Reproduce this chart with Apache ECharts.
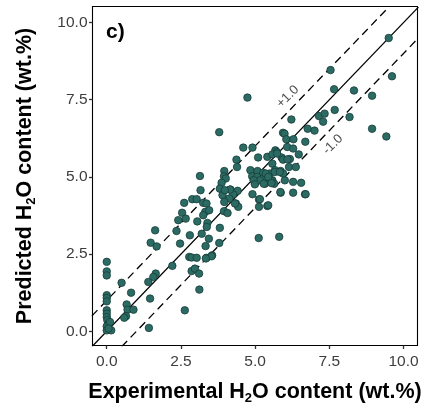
<!DOCTYPE html>
<html>
<head>
<meta charset="utf-8">
<script src="https://cdn.jsdelivr.net/npm/echarts@6/dist/echarts.min.js"></script>
<style>html,body{margin:0;padding:0;background:#fff}#c{width:425px;height:408px}</style>
</head>
<body>
<div id="c"></div>
<script>
var tickValues = [0, 2.5, 5, 7.5, 10];
var experimental = [9.50,7.54,9.61,4.74,7.66,8.33,8.94,7.68,6.22,8.18,7.15,7.34,7.29,8.94,9.42,3.79,6.77,7.00,6.69,5.94,5.99,6.05,6.29,4.60,4.91,6.08,6.28,6.47,5.68,5.73,5.41,5.10,5.58,4.37,4.39,5.58,5.89,5.94,6.17,6.14,6.37,3.96,4.84,5.08,5.27,5.49,5.67,5.86,5.94,3.14,3.95,4.01,4.90,4.96,5.01,5.21,5.33,5.38,5.58,5.64,6.00,6.28,6.55,6.28,5.86,6.68,4.91,5.13,5.41,5.13,5.12,5.81,3.87,3.81,4.17,4.41,3.90,4.26,4.13,3.96,4.35,4.43,3.16,2.61,2.88,3.03,3.25,3.36,3.32,3.25,2.54,2.41,2.66,3.05,3.39,3.37,3.95,4.07,3.81,1.63,2.35,3.20,3.44,2.80,3.79,2.47,1.48,1.68,3.33,3.55,3.36,2.78,2.86,3.03,2.21,2.86,2.97,3.11,3.12,1.65,1.57,1.40,0.50,1.46,0.82,0.67,0.70,0.90,0.65,0.59,2.63,1.42,0.00,0.00,0.00,0.00,0.00,0.00,0.00,0.00,0.00,0.02,0.06,0.00,0.11,0.00,0.15,0.06,5.07,5.27,5.36,5.52,5.66,5.83,5.16,5.44,4.95,4.99,5.29,5.55,5.74,6.09,5.16,5.85,4.15,3.98,4.32,3.45,3.53,3.34,5.44,6.70];
var predicted = [9.50,8.46,8.26,7.57,7.84,7.80,7.63,7.17,6.86,6.94,6.97,7.05,6.79,6.56,6.31,6.45,6.56,6.50,6.14,6.43,6.40,6.22,6.22,5.95,5.95,5.97,5.92,5.73,5.86,5.81,5.65,5.63,5.73,5.56,5.32,5.43,5.63,5.56,5.58,5.32,5.32,5.19,5.22,5.19,5.13,5.11,5.22,5.19,5.11,5.03,5.02,4.95,5.02,4.89,4.81,4.89,4.78,4.89,4.89,4.78,4.89,4.84,4.81,4.49,4.49,4.44,4.44,4.27,4.06,4.03,3.02,3.06,4.81,4.62,4.59,4.55,4.41,4.43,4.30,4.19,4.14,4.03,4.57,4.16,4.28,4.28,4.16,4.14,3.87,3.76,3.84,3.60,3.65,3.56,3.51,3.38,3.89,3.83,3.35,3.27,3.25,3.16,3.00,3.11,2.86,2.84,2.87,2.75,2.76,2.46,2.38,2.41,2.39,2.38,2.12,1.95,2.03,1.87,1.35,1.87,1.76,1.60,1.57,1.06,1.25,0.87,0.70,0.70,0.49,0.44,0.68,0.11,2.25,1.94,1.81,1.17,1.08,0.97,0.68,0.57,0.46,0.36,0.25,0.16,0.30,0.03,0.03,0.09,5.00,4.95,5.11,4.89,5.16,5.16,4.89,5.00,4.89,4.76,4.78,4.80,5.76,5.57,4.28,4.51,4.59,4.57,4.14,3.92,2.43,2.36,4.08,4.44];
var identityLine = [[-0.5, -0.5], [10.5, 10.5]];
var upperLine = [[-0.5, 0.5], [9.5, 10.5]];
var lowerLine = [[0.5, -0.5], [10.5, 9.5]];
var upperLabel = [6.1, 7.6];
var lowerLabel = [7.62, 6.05];

var pts = experimental.map(function (x, i) { return [x, predicted[i]]; });
var chart = echarts.init(document.getElementById('c'), null, {renderer: 'canvas'});
var labelFont = 'Liberation Sans, Arial, sans-serif';
var titleRich = {
  b: {fontFamily: labelFont, fontWeight: 'bold', fontSize: 21.5, color: '#000'},
  s: {fontFamily: labelFont, fontWeight: 'bold', fontSize: 13, color: '#000', padding: [11, 0, 0, 0]}
};
function fmt(v) { return v.toFixed(1); }
chart.setOption({
  animation: false,
  backgroundColor: '#fff',
  grid: {left: 92.5, right: 7.5, top: 6.5, bottom: 62.5, show: true, borderColor: '#000', borderWidth: 1.1,
         backgroundColor: 'transparent', containLabel: false, outerBoundsMode: 'none'},
  xAxis: {
    type: 'value', min: -0.48, max: 10.47,
    splitLine: {show: false},
    axisLine: {show: false, onZero: false},
    axisTick: {show: true, length: 3.5, lineStyle: {color: '#333', width: 1.3}, customValues: tickValues},
    axisLabel: {customValues: tickValues, formatter: fmt, color: '#3d3d3d', fontSize: 15.5, fontFamily: labelFont, margin: 8, hideOverlap: false},
    name: '{b|Experimental H}{s|2}{b|O content (wt.%)}',
    nameLocation: 'middle', nameGap: 35,
    nameTextStyle: {rich: titleRich}
  },
  yAxis: {
    type: 'value', min: -0.46, max: 10.52,
    splitLine: {show: false},
    axisLine: {show: false, onZero: false},
    axisTick: {show: true, length: 3.5, lineStyle: {color: '#333', width: 1.3}, customValues: tickValues},
    axisLabel: {customValues: tickValues, formatter: fmt, color: '#3d3d3d', fontSize: 15.5, fontFamily: labelFont, margin: 5},
    name: '{b|Predicted H}{s|2}{b|O content (wt.%)}',
    nameLocation: 'middle', nameGap: 55, nameRotate: 90,
    nameTextStyle: {rich: titleRich}
  },
  graphic: [{
    type: 'text', left: 106, top: 22,
    style: {text: 'c)', font: 'bold 21px ' + labelFont, fill: '#000'}
  }],
  series: [
    {type: 'line', data: identityLine, symbol: 'none', lineStyle: {color: '#000', width: 1.3}, z: 1, silent: true},
    {type: 'line', data: upperLine, symbol: 'none', lineStyle: {color: '#000', width: 1.3, type: [8, 5]}, z: 1, silent: true},
    {type: 'line', data: lowerLine, symbol: 'none', lineStyle: {color: '#000', width: 1.3, type: [8, 5]}, z: 1, silent: true},
    {type: 'scatter', data: pts, symbolSize: 7.5, z: 3,
     itemStyle: {color: '#2c6b64', borderColor: '#173d39', borderWidth: 0.8, opacity: 1}},
    {type: 'scatter', data: [upperLabel], symbolSize: 0, z: 4, silent: true,
     label: {show: true, position: 'inside', formatter: '+1.0', rotate: 45, fontSize: 13, fontFamily: labelFont, color: '#222'}},
    {type: 'scatter', data: [lowerLabel], symbolSize: 0, z: 4, silent: true,
     label: {show: true, position: 'inside', formatter: '-1.0', rotate: 45, fontSize: 13, fontFamily: labelFont, color: '#222'}}
  ]
});
</script>
</body>
</html>
